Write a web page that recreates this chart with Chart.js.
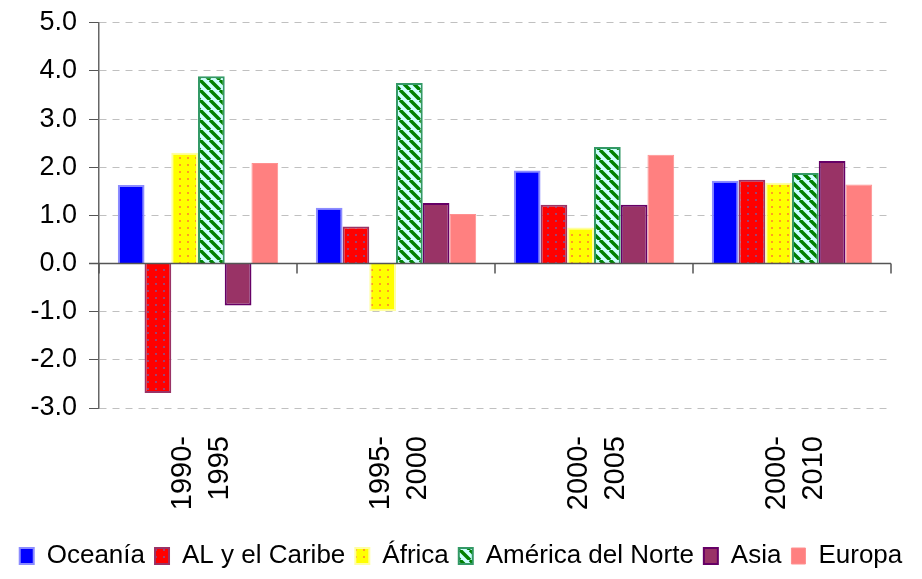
<!DOCTYPE html>
<html>
<head>
<meta charset="utf-8">
<script src="https://cdn.jsdelivr.net/npm/chart.js@4.4.1/dist/chart.umd.min.js"></script>
<style>
  html, body { margin: 0; padding: 0; background: #fff; }
</style>
</head>
<body>
<canvas id="chart" width="922" height="579"></canvas>
<script>
// Tasa de crecimiento por región y período
const periods = [['1990-', '1995'], ['1995-', '2000'], ['2000-', '2005'], ['2000-', '2010']];
const oceania = [1.63, 1.16, 1.93, 1.72];
const caribe = [-2.69, 0.77, 1.22, 1.74];
const africa = [2.30, -0.99, 0.75, 1.68];
const norteamerica = [3.89, 3.75, 2.42, 1.88];
const asia = [-0.87, 1.26, 1.22, 2.13];
const europa = [2.09, 1.03, 2.26, 1.64];
const yMin = -3, yMax = 5, yStep = 1;

function dotPattern(bg, dot) {
    const c = document.createElement('canvas');
    c.width = 8; c.height = 7;
    const g = c.getContext('2d');
    g.fillStyle = bg;
    g.fillRect(0, 0, 8, 7);
    g.fillStyle = dot;
    g.fillRect(3, 3, 2, 2);
    return g.createPattern(c, 'repeat');
}

function stripePattern(bg, line) {
    const c = document.createElement('canvas');
    c.width = 10; c.height = 10;
    const g = c.getContext('2d');
    g.fillStyle = bg;
    g.fillRect(0, 0, 10, 10);
    g.strokeStyle = line;
    g.lineWidth = 3.5;
    g.beginPath();
    [-10, 0, 10].forEach(o => { g.moveTo(o, 0); g.lineTo(o + 10, 10); });
    g.stroke();
    return g.createPattern(c, 'repeat');
}

// zero line and the small category ticks hanging from it
const zeroLine = {
    id: 'zeroLine',
    afterDatasetsDraw(chart) {
        const { ctx, chartArea, scales: { y } } = chart;
        const y0 = y.getPixelForValue(0);
        const step = (chartArea.right - chartArea.left) / periods.length;
        ctx.save();
        ctx.strokeStyle = '#555';
        ctx.lineWidth = 1.5;
        ctx.beginPath();
        ctx.moveTo(chartArea.left - 10, y0);
        ctx.lineTo(chartArea.right, y0);
        for (let i = 0; i <= periods.length; i++) {
            const px = chartArea.left + i * step;
            ctx.moveTo(px, y0);
            ctx.lineTo(px, y0 + 10);
        }
        ctx.stroke();
        ctx.restore();
    }
};

Chart.defaults.font.family = '"Liberation Sans", Arial, sans-serif';
Chart.defaults.color = '#000';

new Chart(document.getElementById('chart'), {
    type: 'bar',
    data: {
        labels: periods,
        datasets: [
            { label: 'Oceanía', data: oceania, backgroundColor: '#0000ff', borderColor: '#8c8cff', borderWidth: 2 },
            { label: 'AL y el Caribe', data: caribe, backgroundColor: dotPattern('#ff0000', '#a04070'), borderColor: '#993366', borderWidth: 2 },
            { label: 'África', data: africa, backgroundColor: dotPattern('#ffff00', '#ff9f20'), borderColor: '#ffffa0', borderWidth: 2 },
            { label: 'América del Norte', data: norteamerica, backgroundColor: stripePattern('#ccffff', '#008000'), borderColor: '#339966', borderWidth: 2 },
            { label: 'Asia', data: asia, backgroundColor: '#993366', borderColor: '#660066', borderWidth: 2 },
            { label: 'Europa', data: europa, backgroundColor: '#ff8080', borderColor: '#ff9090', borderWidth: 1 }
        ]
    },
    options: {
        responsive: false,
        animation: false,
        devicePixelRatio: 1,
        layout: { padding: { left: 0, right: 0, top: 0, bottom: 0 } },
        datasets: { bar: { categoryPercentage: 0.81, barPercentage: 1.0 } },
        plugins: {
            legend: {
                position: 'bottom',
                labels: { font: { size: 26 }, boxWidth: 14, boxHeight: 16, padding: 10, color: '#000' }
            },
            tooltip: { enabled: false }
        },
        scales: {
            x: {
                grid: { display: false, drawTicks: false },
                border: { display: false },
                ticks: { font: { size: 29, lineHeight: 1.26 }, minRotation: 90, maxRotation: 90, padding: 28, labelOffset: -15 },
                afterFit: s => { s.height = 125; }
            },
            y: {
                min: yMin,
                max: yMax,
                grid: {
                    color: ctx => ctx.tick && ctx.tick.value === 0 ? 'rgba(0,0,0,0)' : '#c0c0c0',
                    tickColor: '#555',
                    tickLength: 10
                },
                border: { color: '#666', width: 1.5, dash: [7, 6] },
                ticks: { stepSize: yStep, font: { size: 27, lineHeight: 0.8 }, padding: 12, callback: v => v.toFixed(1) },
                afterFit: s => { s.width = 99; }
            },
            // empty axis that only keeps the right margin
            r: {
                position: 'right',
                grid: { display: false },
                border: { display: false },
                ticks: { display: false },
                afterFit: s => { s.width = 31; }
            }
        }
    },
    plugins: [zeroLine]
});
</script>
</body>
</html>
